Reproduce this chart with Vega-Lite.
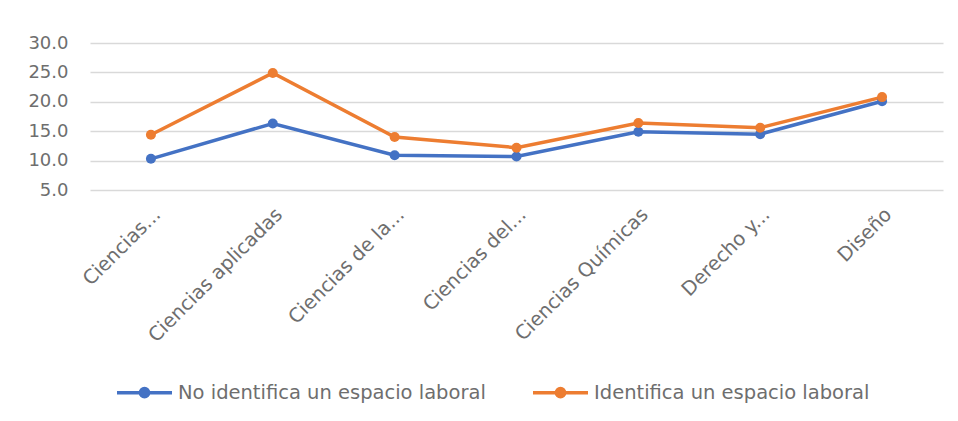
{
  "$schema": "https://vega.github.io/schema/vega-lite/v6.json",
  "width": 853,
  "height": 147,
  "autosize": {"type": "none"},
  "padding": {"left": 90, "top": 43, "right": 15, "bottom": 231},
  "background": "white",
  "data": {
    "values": [
      {"carrera": "Ciencias...", "serie": "No identifica un espacio laboral", "valor": 10.3},
      {"carrera": "Ciencias aplicadas", "serie": "No identifica un espacio laboral", "valor": 16.3},
      {"carrera": "Ciencias de la...", "serie": "No identifica un espacio laboral", "valor": 10.9},
      {"carrera": "Ciencias del...", "serie": "No identifica un espacio laboral", "valor": 10.7},
      {"carrera": "Ciencias Químicas", "serie": "No identifica un espacio laboral", "valor": 14.9},
      {"carrera": "Derecho y...", "serie": "No identifica un espacio laboral", "valor": 14.5},
      {"carrera": "Diseño", "serie": "No identifica un espacio laboral", "valor": 20.1},
      {"carrera": "Ciencias...", "serie": "Identifica un espacio laboral", "valor": 14.4},
      {"carrera": "Ciencias aplicadas", "serie": "Identifica un espacio laboral", "valor": 24.9},
      {"carrera": "Ciencias de la...", "serie": "Identifica un espacio laboral", "valor": 14.0},
      {"carrera": "Ciencias del...", "serie": "Identifica un espacio laboral", "valor": 12.2},
      {"carrera": "Ciencias Químicas", "serie": "Identifica un espacio laboral", "valor": 16.4},
      {"carrera": "Derecho y...", "serie": "Identifica un espacio laboral", "valor": 15.6},
      {"carrera": "Diseño", "serie": "Identifica un espacio laboral", "valor": 20.8}
    ]
  },
  "mark": {"type": "line", "strokeWidth": 3.5, "point": {"filled": true, "size": 100}},
  "encoding": {
    "x": {
      "field": "carrera",
      "type": "nominal",
      "sort": null,
      "scale": {"type": "point", "padding": 0.5},
      "axis": {
        "title": null,
        "labelAngle": -45,
        "labelAlign": "right",
        "labelBaseline": "middle",
        "labelPadding": 21,
        "labelOffset": 6,
        "labelLimit": 0,
        "ticks": false,
        "domain": false,
        "grid": false,
        "labelFont": "DejaVu Sans",
        "labelFontSize": 19.5,
        "labelColor": "#6E6E6E"
      }
    },
    "y": {
      "field": "valor",
      "type": "quantitative",
      "scale": {"domain": [5, 30], "nice": false, "zero": false},
      "axis": {
        "title": null,
        "values": [5, 10, 15, 20, 25, 30],
        "format": ".1f",
        "ticks": false,
        "domain": false,
        "gridColor": "#D9D9D9",
        "gridWidth": 1.5,
        "labelPadding": 22,
        "labelFont": "DejaVu Sans",
        "labelFontSize": 18,
        "labelColor": "#6E6E6E"
      }
    },
    "color": {
      "field": "serie",
      "type": "nominal",
      "sort": ["No identifica un espacio laboral", "Identifica un espacio laboral"],
      "scale": {
        "domain": ["No identifica un espacio laboral", "Identifica un espacio laboral"],
        "range": ["#4472C4", "#ED7D31"]
      },
      "legend": {
        "title": null,
        "orient": "none",
        "direction": "horizontal",
        "legendX": 25,
        "legendY": 320,
        "padding": 0,
        "columnPadding": 40,
        "labelOffset": 4,
        "labelLimit": 0,
        "symbolType": "M-1,0L1,0M-0.15,0A0.15,0.15,0,1,1,0.15,0A0.15,0.15,0,1,1,-0.15,0Z",
        "symbolSize": 3025,
        "symbolStrokeWidth": 3.5,
        "labelFont": "DejaVu Sans",
        "labelFontSize": 19.5,
        "labelColor": "#6E6E6E"
      }
    }
  },
  "config": {"view": {"stroke": null}}
}
